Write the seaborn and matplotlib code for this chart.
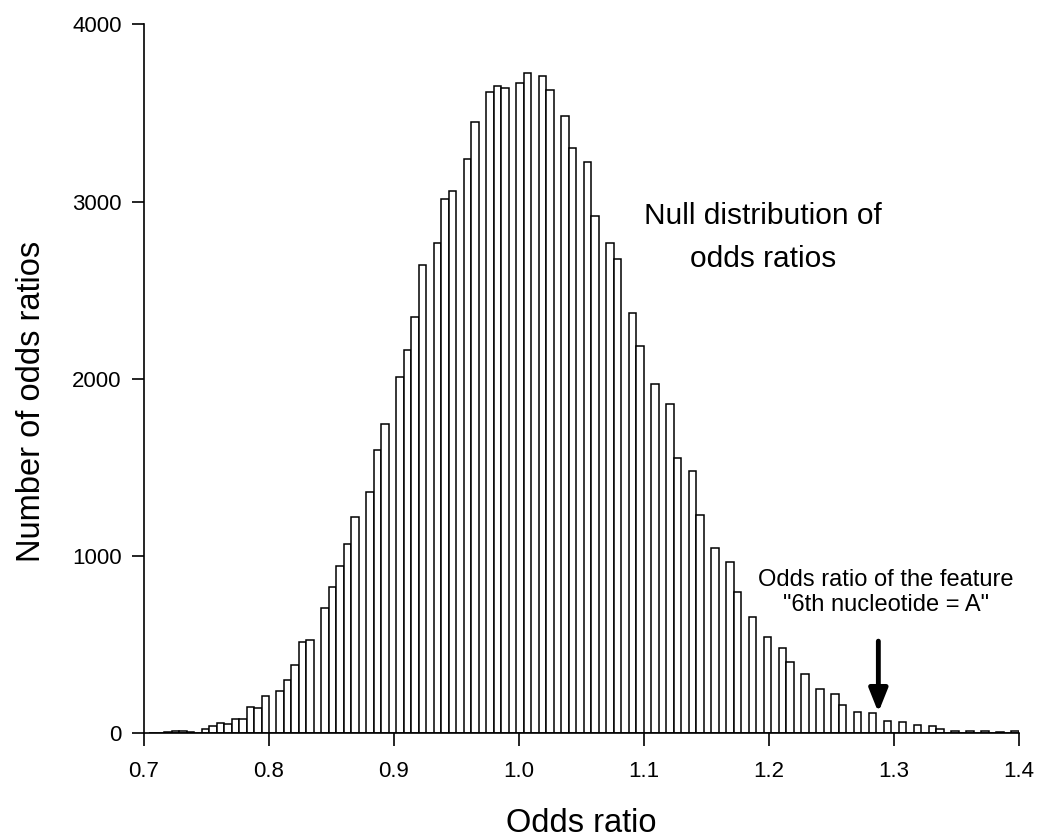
import numpy as np
import pandas as pd
import matplotlib
matplotlib.use("Agg")
import matplotlib.pyplot as plt
import seaborn as sns

# ---- data ----
bin_start = 0.704
bin_width = 0.006
counts = [
    3, 4, 9, 13, 13, 9, 0, 23, 43, 58,
    51, 81, 81, 149, 145, 209, 0, 240, 301, 384,
    515, 526, 0, 705, 826, 946, 1066, 1222, 0, 1363,
    1598, 1745, 0, 2012, 2164, 2350, 2642, 0, 2764, 3013,
    3060, 0, 3240, 3451, 0, 3620, 3652, 3639, 0, 3671,
    3727, 0, 3708, 3629, 0, 3482, 3304, 0, 3225, 2919,
    0, 2764, 2676, 0, 2373, 2187, 0, 1969, 0, 1856,
    1551, 0, 1480, 1232, 0, 1044, 0, 965, 799, 0,
    654, 0, 545, 0, 480, 404, 0, 335, 0, 250,
    0, 220, 158, 0, 122, 0, 113, 0, 70, 0,
    66, 0, 45, 0, 41, 24, 0, 14, 0, 14,
    0, 14, 0, 10, 0, 12,
]
x_ticks = [0.7, 0.8, 0.9, 1.0, 1.1, 1.2, 1.3, 1.4]
x_tick_labels = ["0.7", "0.8", "0.9", "1.0", "1.1", "1.2", "1.3", "1.4"]
y_ticks = [0, 1000, 2000, 3000, 4000]
feature_odds_ratio = 1.2875
arrow_top, arrow_tip = 520, 118

edges = [float(e) for e in bin_start + bin_width * np.arange(len(counts) + 1)]
centers = [(a + b) / 2 for a, b in zip(edges[:-1], edges[1:])]
df = pd.DataFrame({"odds_ratio": centers, "count": counts})

sns.set_theme(style="ticks")
plt.rcParams["font.family"] = ["Liberation Sans", "DejaVu Sans"]
plt.rcParams["text.color"] = "black"
plt.rcParams["axes.labelcolor"] = "black"

fig = plt.figure(figsize=(10.42, 8.40), dpi=100)
ax = fig.add_axes([0.1382, 0.127, 0.8397, 0.844])

sns.histplot(data=df, x="odds_ratio", weights="count", bins=edges,
             color="white", edgecolor="black", linewidth=1.1, alpha=1,
             ax=ax)

ax.set_xlim(0.7, 1.4)
ax.set_ylim(0, 4000)
ax.set_xticks(x_ticks)
ax.set_xticklabels(x_tick_labels)
ax.set_yticks(y_ticks)
ax.tick_params(axis="both", direction="out", length=9, width=1.2,
               labelsize=16, colors="black")
ax.tick_params(axis="x", pad=11)
ax.tick_params(axis="y", pad=7)
for s in ["top", "right"]:
    ax.spines[s].set_visible(False)
for s in ["left", "bottom"]:
    ax.spines[s].set_linewidth(1.2)
    ax.spines[s].set_color("black")

ax.set_xlabel("Odds ratio", fontsize=23.5, color="black")
ax.set_ylabel("Number of odds ratios", fontsize=23.5, color="black")
ax.xaxis.set_label_coords(0.5, -0.105)
ax.yaxis.set_label_coords(-0.111, 0.4687)

ax.text(1.195, 2795, "Null distribution of\nodds ratios", ha="center",
        va="center", fontsize=21.5, linespacing=1.68, color="black")
ax.text(1.2936, 793, "Odds ratio of the feature\n\"6th nucleotide = A\"",
        ha="center", va="center", fontsize=17, linespacing=1.18,
        color="black")

ax.annotate("", xy=(feature_odds_ratio, arrow_tip),
            xytext=(feature_odds_ratio, arrow_top),
            arrowprops=dict(arrowstyle="-|>,head_length=0.7,head_width=0.28",
                            lw=3.5, color="black", mutation_scale=20,
                            shrinkA=0, shrinkB=0))

fig.savefig("out.png", dpi=100)
